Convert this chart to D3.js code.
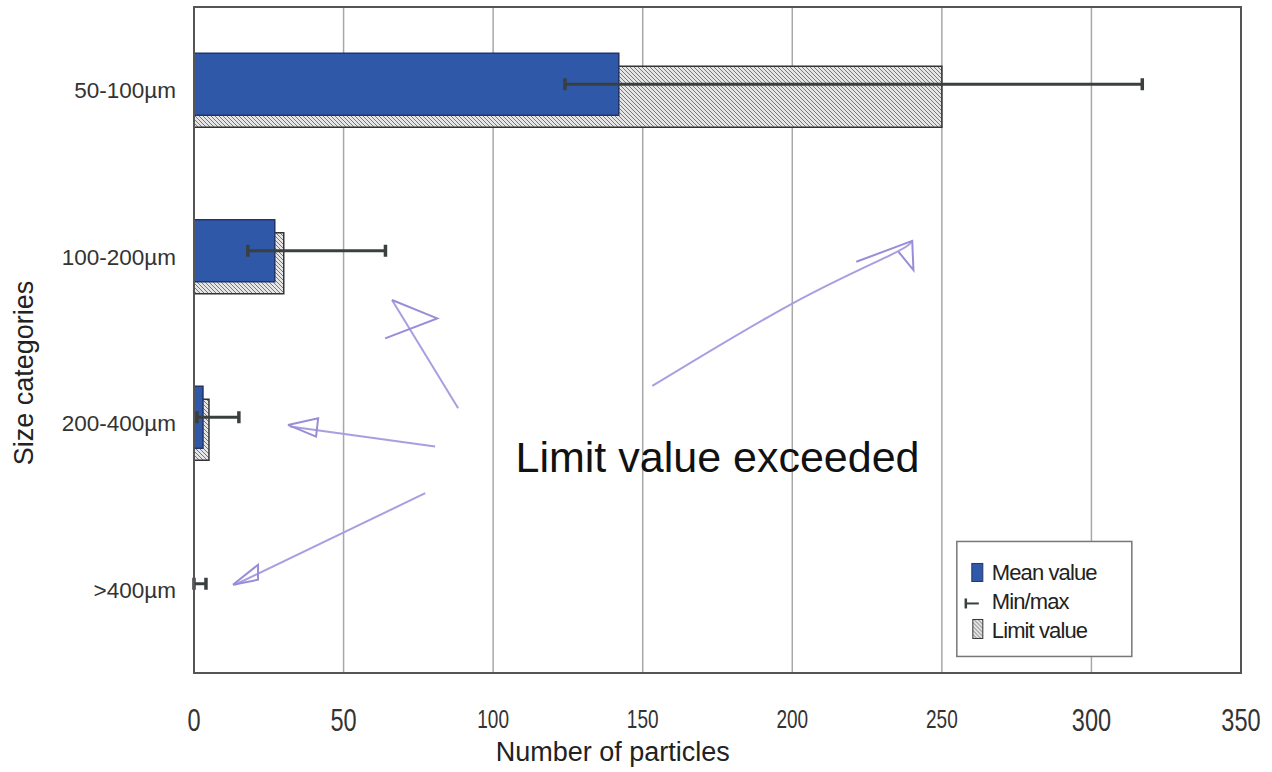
<!DOCTYPE html>
<html>
<head>
<meta charset="utf-8">
<script src="https://cdn.jsdelivr.net/npm/d3@7"></script>
<style>
  body { margin: 0; background: #fff; }
  svg text { font-family: "Liberation Sans", Arial, sans-serif; }
</style>
</head>
<body>
<div id="chart"></div>
<script>
// chart values
const categories = ["50-100µm", "100-200µm", "200-400µm", ">400µm"];
const meanValues = [142, 27, 3, 0];
const limitValues = [250, 30, 5, 0];
const minValues = [124, 18, 1, 0];
const maxValues = [317, 64, 15, 4];
const xTicks = [0, 50, 100, 150, 200, 250, 300, 350];
const legendLabels = ["Mean value", "Min/max", "Limit value"];

// hand drawn arrows: [particles, band units from top]
const arrowLines = [
    [[153.2, 2.276], [200.3, 1.778], [232.8, 1.49], [240.1, 1.405]],
    [[88.3, 2.41], [66.2, 1.76]],
    [[80.6, 2.64], [32.1, 2.52]],
    [[77.3, 2.92], [13.7, 3.47]]
];
const arrowHeads = [
    [[221.4, 1.53], [240.1, 1.405], [240.5, 1.58], [235.5, 1.47]],
    [[66.2, 1.76], [81.3, 1.87], [63.9, 1.99]],
    [[31.4, 2.51], [41.5, 2.47], [40.8, 2.58], [31.4, 2.51]],
    [[13, 3.47], [21.4, 3.35], [21.4, 3.44], [13, 3.47]]
];

const margin = { top: 7, right: 31, bottom: 99, left: 194 };
const W = 1272, H = 772;
const width = W - margin.left - margin.right;
const height = H - margin.top - margin.bottom;

const svg = d3.select("#chart").append("svg")
    .attr("width", W)
    .attr("height", H);

// hatch pattern for the limit bars
const defs = svg.append("defs");
const pat = defs.append("pattern")
    .attr("id", "hatch")
    .attr("patternUnits", "userSpaceOnUse")
    .attr("width", 4)
    .attr("height", 4);
pat.append("rect").attr("width", 4).attr("height", 4).attr("fill", "#e6e6e6");
pat.append("path")
    .attr("d", "M-1,-1 L5,5 M-1,3 L1,5 M3,-1 L5,1")
    .attr("stroke", "#777")
    .attr("stroke-width", 1);

const g = svg.append("g")
    .attr("transform", `translate(${margin.left},${margin.top})`);

const x = d3.scaleLinear().domain([0, 350]).range([0, width]);
const y = d3.scaleBand().domain(categories).range([0, height]).padding(0);
const yUnit = d3.scaleLinear().domain([0, categories.length]).range([0, height]);
const bw = y.bandwidth();

const data = categories.map((c, i) => ({
    cat: c, mean: meanValues[i], limit: limitValues[i], min: minValues[i], max: maxValues[i]
}));

// gridlines
g.selectAll(".grid")
    .data(xTicks.slice(1, -1))
    .enter().append("line")
    .attr("x1", d => x(d)).attr("x2", d => x(d))
    .attr("y1", 0).attr("y2", height)
    .attr("stroke", "#a8a8a8")
    .attr("stroke-width", 1.5);

// limit bars (behind)
g.selectAll(".limit")
    .data(data.filter(d => d.limit > 0))
    .enter().append("rect")
    .attr("x", x(0))
    .attr("y", d => y(d.cat) + bw / 2 - 24)
    .attr("width", d => x(d.limit) - x(0))
    .attr("height", 61)
    .attr("fill", "url(#hatch)")
    .attr("stroke", "#333")
    .attr("stroke-width", 1.5);

// mean bars
g.selectAll(".mean")
    .data(data.filter(d => d.mean > 0))
    .enter().append("rect")
    .attr("x", x(0))
    .attr("y", d => y(d.cat) + bw / 2 - 37)
    .attr("width", d => x(d.mean) - x(0))
    .attr("height", 62)
    .attr("fill", "#2f59a8")
    .attr("stroke", "#22346a")
    .attr("stroke-width", 1.5);

// min/max error bars
const err = g.selectAll(".err")
    .data(data)
    .enter().append("g")
    .attr("transform", d => `translate(0,${y(d.cat) + bw / 2 - 6})`);
err.append("line")
    .attr("x1", d => x(d.min)).attr("x2", d => x(d.max))
    .attr("stroke", "#3a3f3f").attr("stroke-width", 3);
err.append("line")
    .attr("x1", d => x(d.min)).attr("x2", d => x(d.min))
    .attr("y1", -6).attr("y2", 6)
    .attr("stroke", "#3a3f3f").attr("stroke-width", 3.5);
err.append("line")
    .attr("x1", d => x(d.max)).attr("x2", d => x(d.max))
    .attr("y1", -6).attr("y2", 6)
    .attr("stroke", "#3a3f3f").attr("stroke-width", 3.5);

// frame
g.append("rect")
    .attr("width", width).attr("height", height)
    .attr("fill", "none")
    .attr("stroke", "#555")
    .attr("stroke-width", 2);

// y axis labels
g.selectAll(".ylab")
    .data(categories)
    .enter().append("text")
    .attr("x", -18)
    .attr("y", d => y(d) + bw / 2)
    .attr("dy", "0.35em")
    .attr("text-anchor", "end")
    .attr("fill", "#333")
    .style("font-size", "22.5px")
    .text(d => d);

// x axis labels (scan makes the middle ones look smaller)
const small = d => d >= 100 && d <= 250;
g.selectAll(".xlab")
    .data(xTicks)
    .enter().append("text")
    .attr("transform", d => `translate(${x(d)},${height + (small(d) ? 55 : 58)}) scale(0.76,1)`)
    .attr("text-anchor", "middle")
    .attr("fill", "#333")
    .style("font-size", d => small(d) ? "25px" : "31px")
    .text(d => d);

g.append("text")
    .attr("x", x(140))
    .attr("y", height + 88)
    .attr("text-anchor", "middle")
    .attr("fill", "#222")
    .style("font-size", "27px")
    .text("Number of particles");

svg.append("text")
    .attr("transform", `translate(33,${margin.top + height / 2 + 33}) rotate(-90)`)
    .attr("text-anchor", "middle")
    .attr("fill", "#222")
    .style("font-size", "27px")
    .text("Size categories");

// hand drawn annotation
const line = d3.line().x(d => x(d[0])).y(d => yUnit(d[1])).curve(d3.curveNatural);
g.selectAll(".arrow")
    .data(arrowLines)
    .enter().append("path")
    .attr("d", line)
    .attr("fill", "none")
    .attr("stroke", "#aa9de0")
    .attr("stroke-width", 2);
g.selectAll(".head")
    .data(arrowHeads)
    .enter().append("path")
    .attr("d", d => "M" + d.map(p => [x(p[0]), yUnit(p[1])].join(",")).join("L"))
    .attr("fill", "none")
    .attr("stroke", "#9a8cd8")
    .attr("stroke-width", 2);

g.append("text")
    .attr("x", x(175))
    .attr("y", 465)
    .attr("text-anchor", "middle")
    .attr("fill", "#111")
    .style("font-size", "43px")
    .text("Limit value exceeded");

// legend
const lg = g.append("g").attr("transform", `translate(${x(255)},${yUnit(3.21)})`);
lg.append("rect")
    .attr("width", 175).attr("height", 115)
    .attr("fill", "#fff")
    .attr("stroke", "#777")
    .attr("stroke-width", 1.5);
const items = lg.selectAll(".item")
    .data(legendLabels)
    .enter().append("g")
    .attr("transform", (d, i) => `translate(0,${31 + i * 29})`);
items.append("text")
    .attr("x", 35)
    .attr("dy", "0.35em")
    .attr("fill", "#222")
    .style("font-size", "22px")
    .style("letter-spacing", "-0.9px")
    .text(d => d);
items.filter((d, i) => i === 0).append("rect")
    .attr("x", 15).attr("y", -9).attr("width", 11).attr("height", 18)
    .attr("fill", "#2f59a8").attr("stroke", "#22346a");
items.filter((d, i) => i === 2).append("rect")
    .attr("x", 16).attr("y", -11).attr("width", 10).attr("height", 19)
    .attr("fill", "url(#hatch)").attr("stroke", "#333");
const mm = items.filter((d, i) => i === 1);
mm.append("line").attr("x1", 9).attr("x2", 22).attr("y1", 2).attr("y2", 2)
    .attr("stroke", "#3a3f3f").attr("stroke-width", 2);
mm.append("line").attr("x1", 9).attr("x2", 9).attr("y1", -3).attr("y2", 7)
    .attr("stroke", "#3a3f3f").attr("stroke-width", 2.5);
</script>
</body>
</html>
